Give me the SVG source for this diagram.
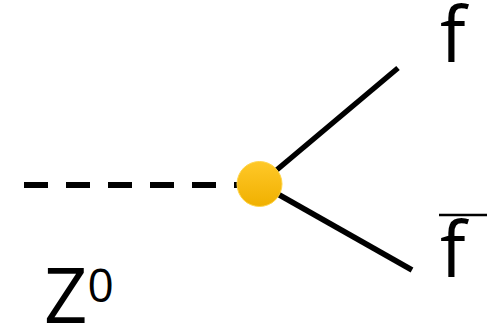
<svg xmlns="http://www.w3.org/2000/svg" width="487" height="329" viewBox="0 0 487 329">
<style>
.t{font-family:"Open Sans","Noto Sans",sans-serif;fill:#000}
.ln{stroke:#000;stroke-width:5.5;fill:none}
</style>
<defs>
<linearGradient id="g" x1="0" y1="0" x2="0" y2="1">
<stop offset="0" stop-color="#FFC828"/>
<stop offset="1" stop-color="#F0B000"/>
</linearGradient>
</defs>
<rect width="487" height="329" fill="#fff"/>
<g id="connectors">
<line x1="24" y1="185" x2="240" y2="185" stroke="#000" stroke-width="6" stroke-dasharray="24 18"/>
<line class="ln" x1="260" y1="184" x2="398" y2="68"/>
<line class="ln" x1="260" y1="184" x2="412" y2="270"/>
</g>
<g id="vertex">
<circle cx="259.5" cy="184" r="22.5" fill="url(#g)" stroke="#FFD54A" stroke-width="1"/>
</g>
<g id="f">
<text class="t" x="440" y="62" font-size="76">f</text>
</g>
<g id="fbar">
<line x1="439" y1="215" x2="487" y2="215" stroke="#000" stroke-width="2.5"/>
<text class="t" x="440" y="277" font-size="76">f</text>
</g>
<g id="z0">
<text class="t" x="44" y="323" font-size="76">Z<tspan font-size="46" dy="-21">0</tspan></text>
</g>
</svg>
